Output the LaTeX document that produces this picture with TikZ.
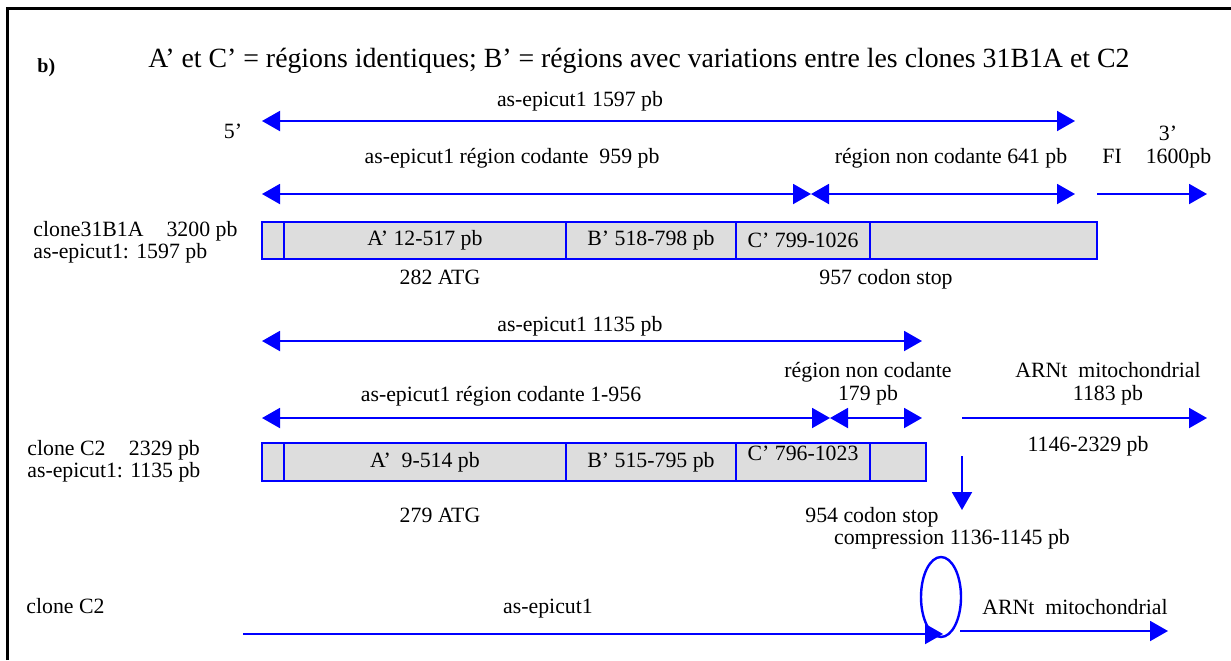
\documentclass[tikz,border=0pt]{standalone}
\usepackage{fontspec}
\setmainfont{Liberation Serif}
\usetikzlibrary{arrows.meta,positioning,shapes.geometric}
\definecolor{boxgray}{RGB}{221,221,221}

\begin{document}
\begin{tikzpicture}[x=0.5pt, y=-0.5pt,
        txt/.style={inner sep=0pt, anchor=base, font=\fontsize{10.9pt}{11.5pt}\selectfont},
        seg/.style={rectangle, draw=blue, line width=1.2pt, fill=boxgray, inner sep=0pt, outer sep=0pt, font=\fontsize{10.9pt}{11.5pt}\selectfont},
        arrow/.style={blue, line width=1pt, -{Triangle[length=9pt,width=10pt]}},
        darrow/.style={blue, line width=1pt, {Triangle[length=9pt,width=10pt]}-{Triangle[length=9pt,width=10pt]}},
        loopbox/.style={ellipse, draw=blue, line width=1.2pt, inner sep=0pt, minimum width=20pt, minimum height=40pt}
    ]
        \useasboundingbox (0,0) rectangle (1231,660);
        \draw[line width=1.5pt] (7.5,660) -- (7.5,8.5) -- (1231,8.5);

        % Title
        \node[txt, anchor=base west, font=\bfseries\fontsize{10pt}{12pt}\selectfont] (part) at (37,72) {b)};
        \node[txt, anchor=base west, font=\fontsize{13.9pt}{16pt}\selectfont] (title) at (148,67) {A’ et C’ = régions identiques; B’ = régions avec variations entre les clones 31B1A et C2};

        % Clone 31B1A
        \coordinate (f1l) at (262,121);
        \coordinate (f1r) at (1075,121);
        \node[txt] (full1) at (580,106) {as-epicut1 1597 pb};
        \node[txt] (five) at (233,138) {5’};
        \node[txt] (three) at (1168,140) {3’};
        \node[txt] (cod1) at (512,163) {as-epicut1 région codante\ \ 959 pb};
        \node[txt] (ncod1) at (951,163) {région non codante 641 pb};
        \node[txt, anchor=base west] (fi) at (1102,163) {FI\hspace{12pt}1600pb};
        \coordinate (c1l) at (262,194);
        \coordinate (c1m) at (811,194);
        \coordinate (c1r) at (1075,194);
        \coordinate (fil) at (1097,194);
        \coordinate (fir) at (1207,194);

        \node[txt, anchor=base west] (name1) at (33,236) {clone31B1A\hspace{11.5pt}3200 pb};
        \node[txt, anchor=base west] (len1) at (33,258) {as-epicut1: 1597 pb};

        \node[seg, minimum width=11pt, minimum height=18.5pt, anchor=west] (r1a) at (262,240.5) {};
        \node[seg, minimum width=141pt, minimum height=18.5pt, right=0pt of r1a] (r1b) {A’ 12-517 pb};
        \node[seg, minimum width=85pt, minimum height=18.5pt, right=0pt of r1b] (r1c) {B’ 518-798 pb};
        \node[seg, minimum width=67pt, minimum height=18.5pt, right=0pt of r1c] (r1d) {C’ 799-1026};
        \node[seg, minimum width=113.5pt, minimum height=18.5pt, right=0pt of r1d] (r1e) {};
        \node[txt] (atg1) at (440,284) {282 ATG};
        \node[txt] (stop1) at (886,284) {957 codon stop};

        % Clone C2
        \coordinate (f2l) at (262,341);
        \coordinate (f2r) at (922,341);
        \node[txt] (full2) at (580,331) {as-epicut1 1135 pb};
        \node[txt] (cod2) at (501,401) {as-epicut1 région codante 1-956};
        \node[txt] (ncod2a) at (868,377) {région non codante};
        \node[txt] (ncod2b) at (868,400) {179 pb};
        \node[txt] (trna1a) at (1108,377) {ARNt\ \ mitochondrial};
        \node[txt] (trna1b) at (1108,400) {1183 pb};
        \coordinate (c2l) at (262,418);
        \coordinate (c2m) at (830,418);
        \coordinate (c2r) at (922,418);
        \coordinate (tl) at (962,418);
        \coordinate (tr) at (1207,418);
        \node[txt] (trna1c) at (1088,451) {1146-2329 pb};

        \node[txt, anchor=base west] (name2) at (27,455) {clone C2\hspace{11.75pt}2329 pb};
        \node[txt, anchor=base west] (len2) at (27,477) {as-epicut1: 1135 pb};

        \node[seg, minimum width=11pt, minimum height=19pt, anchor=west] (r2a) at (262,462) {};
        \node[seg, minimum width=141pt, minimum height=19pt, right=0pt of r2a] (r2b) {A’\ \ 9-514 pb};
        \node[seg, minimum width=85pt, minimum height=19pt, right=0pt of r2b] (r2c) {B’ 515-795 pb};
        \node[seg, minimum width=67pt, minimum height=19pt, right=0pt of r2c, text height=8.5pt, text depth=10.5pt] (r2d) {C’ 796-1023};
        \node[seg, minimum width=28pt, minimum height=19pt, right=0pt of r2d] (r2e) {};
        \coordinate (d1) at (962,456);
        \coordinate (d2) at (962,510);
        \node[txt] (atg2) at (440,522) {279 ATG};
        \node[txt] (stop2) at (872,522) {954 codon stop};
        \node[txt] (comp) at (952,544) {compression 1136-1145 pb};

        % Compressed clone C2
        \node[loopbox] (loop) at (941,597) {};
        \node[txt, anchor=base west] (name3) at (26,613) {clone C2};
        \node[txt] (gene3) at (548,613) {as-epicut1};
        \node[txt] (trna2) at (1075,614) {ARNt\ \ mitochondrial};
        \coordinate (g3l) at (243,634);
        \coordinate (g3r) at (943,634);
        \coordinate (t3l) at (960,631);
        \coordinate (t3r) at (1168,631);

        % Arrows
        \draw[darrow] (f1l) -- (f1r);
        \draw[darrow] (c1l) -- (c1m);
        \draw[darrow] (c1m) -- (c1r);
        \draw[arrow] (fil) -- (fir);
        \draw[darrow] (f2l) -- (f2r);
        \draw[darrow] (c2l) -- (c2m);
        \draw[darrow] (c2m) -- (c2r);
        \draw[arrow] (tl) -- (tr);
        \draw[arrow] (d1) -- (d2);
        \draw[arrow] (g3l) -- (g3r);
        \draw[arrow] (t3l) -- (t3r);

    \end{tikzpicture}
\end{document}
